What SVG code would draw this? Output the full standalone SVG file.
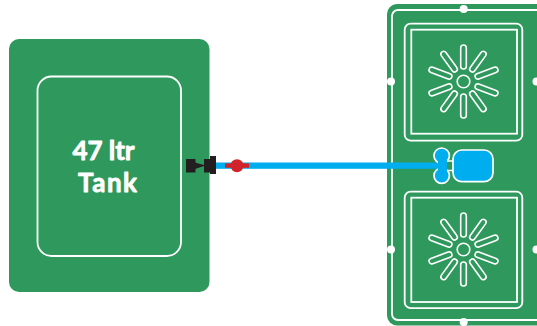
<svg xmlns="http://www.w3.org/2000/svg" xmlns:xlink="http://www.w3.org/1999/xlink" width="537" height="326" viewBox="0 0 537 326">
<style>
.g{fill:#2f995d}
.o{fill:none;stroke:#fff;stroke-width:1.8}
.d{fill:#fff}
.b{fill:#00aeef;stroke:#fff;stroke-width:1.7}
.s{fill:none;stroke:#fff;stroke-width:1.6}
.k{fill:#231f20}
.t{font-family:"Lato","Liberation Sans",sans-serif;font-weight:700;font-size:26px;fill:#fff;stroke:#fff;stroke-width:.8;stroke-linejoin:round}
</style>
<defs>
<g id="sp"><rect x="-2.800" y="-36.500" width="5.600" height="24" rx="2.800" class="s"/></g>
<g id="sun">
<circle r="6.300" class="s"/>
<use xlink:href="#sp"/>
<use xlink:href="#sp" transform="rotate(36)"/>
<use xlink:href="#sp" transform="rotate(70)"/>
<use xlink:href="#sp" transform="rotate(110)"/>
<use xlink:href="#sp" transform="rotate(144)"/>
<use xlink:href="#sp" transform="rotate(180)"/>
<use xlink:href="#sp" transform="rotate(216)"/>
<use xlink:href="#sp" transform="rotate(250)"/>
<use xlink:href="#sp" transform="rotate(290)"/>
<use xlink:href="#sp" transform="rotate(324)"/>
</g>
</defs>
<rect width="537" height="326" fill="#fff"/>
<g id="tank">
<rect class="g" x="9" y="39" width="200.500" height="253" rx="10"/>
<rect class="o" x="37.500" y="76.500" width="143.500" height="179.500" rx="14"/>
<text class="t" x="72.500" y="160" textLength="62">47 ltr</text>
<text class="t" x="78" y="191.500" textLength="59">Tank</text>
</g>
<g id="panel">
<rect class="g" x="387" y="4" width="170" height="321.500" rx="10"/>
<rect class="o" x="392" y="10" width="170" height="310" rx="6"/>
<circle class="d" cx="463.700" cy="9" r="4"/>
<circle class="d" cx="391" cy="81.500" r="4"/>
<circle class="d" cx="536.500" cy="81.500" r="4"/>
<circle class="d" cx="391" cy="249.500" r="4"/>
<circle class="d" cx="536.500" cy="249.500" r="4"/>
<circle class="d" cx="463.700" cy="322" r="4"/>
<rect class="o" x="404.700" y="23.700" width="117.600" height="117" rx="6"/>
<rect class="o" x="411.300" y="29.700" width="105.700" height="104"/>
<use xlink:href="#sun" x="463.500" y="81.500"/>
<rect class="o" x="404.700" y="191.700" width="117.600" height="116.500" rx="6"/>
<rect class="o" x="411.300" y="197.700" width="105.700" height="104.300"/>
<use xlink:href="#sun" x="463.500" y="249.500"/>
</g>
<g id="connectors">
<rect x="216" y="162.500" width="226" height="6.300" fill="#00aeef"/>
</g>
<g id="valve">
<rect class="k" x="186" y="159" width="9.500" height="13.500"/>
<path class="k" d="M195 162.500L204 165V166L195 169Z"/>
<rect class="k" x="204" y="159" width="7" height="13.500"/>
<rect class="k" x="210" y="156" width="6" height="18"/>
</g>
<g id="tap">
<rect x="225" y="163.300" width="24" height="4.500" fill="#d2232a"/>
<circle cx="237" cy="165.700" r="6.500" fill="#d2232a"/>
</g>
<g id="pump">
<path d="M447 161H453M447 170.500H453" stroke="#fff" stroke-width="1.700" fill="none"/>
<circle class="b" cx="441.700" cy="155.700" r="7.700"/>
<circle class="b" cx="441.700" cy="175.700" r="7.700"/>
<rect x="438" y="160" width="9" height="11" fill="#00aeef"/>
<rect class="b" x="453" y="150" width="40" height="31.700" rx="9"/>
</g>
</svg>
